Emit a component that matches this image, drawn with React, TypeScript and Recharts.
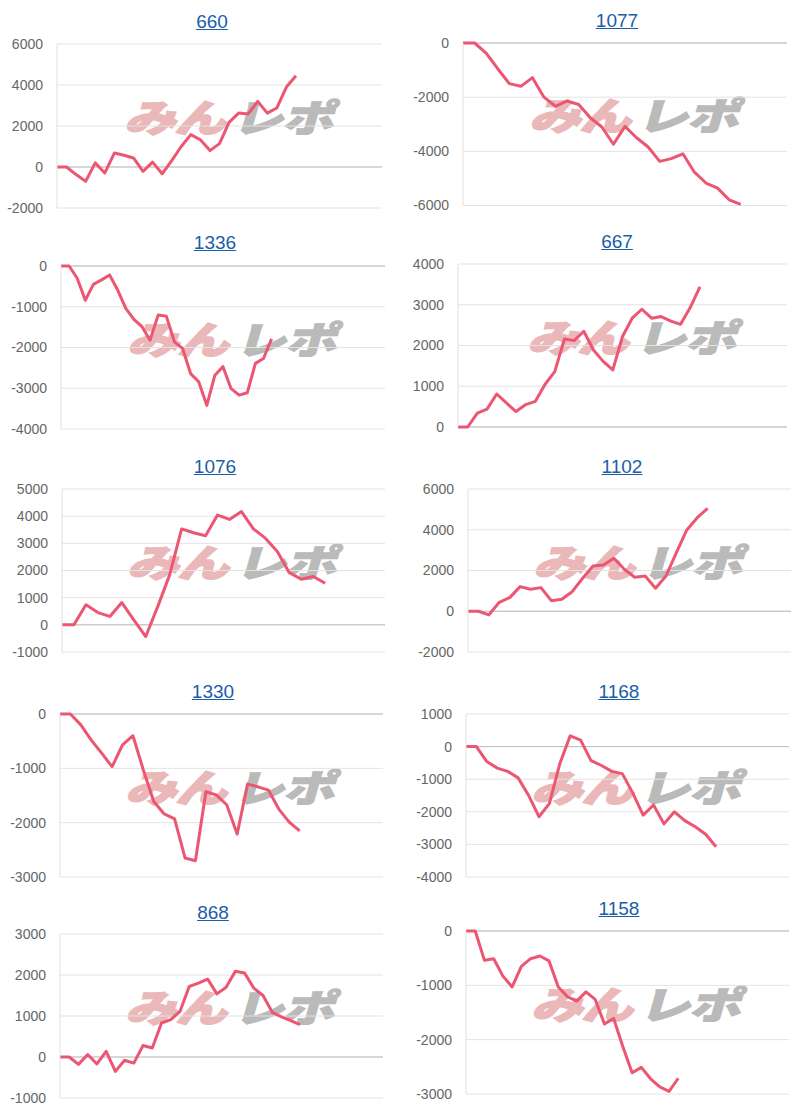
import React from 'react';
import { LineChart, Line, XAxis, YAxis, CartesianGrid, ReferenceLine } from 'recharts';

// ---- data ----
const titles = ['660', '1077', '1336', '667', '1076', '1102', '1330', '1168', '868', '1158'];

const values660 = [0, 0, -370, -700, 200, -290, 680, 570, 440, -210, 240, -330, 310, 1000, 1580, 1330, 800, 1140, 2180, 2630, 2590, 3200, 2630, 2880, 3900, 4450];
const values1077 = [0, 0, -370, -950, -1500, -1600, -1280, -2000, -2340, -2140, -2270, -2760, -3100, -3740, -3080, -3500, -3840, -4370, -4270, -4090, -4770, -5170, -5360, -5790, -5960];
const values1336 = [0, 0, -300, -840, -450, -340, -220, -590, -1040, -1310, -1490, -1820, -1200, -1230, -1860, -2020, -2640, -2840, -3420, -2680, -2470, -3010, -3170, -3110, -2390, -2270, -1790];
const values667 = [0, 0, 340, 440, 810, 590, 380, 550, 630, 1050, 1360, 2160, 2120, 2350, 1890, 1610, 1400, 2220, 2670, 2890, 2670, 2710, 2600, 2520, 2930, 3440];
const values1076 = [0, 0, 740, 450, 310, 820, 180, -430, 670, 1840, 3530, 3390, 3280, 4040, 3880, 4170, 3530, 3190, 2700, 1920, 1680, 1780, 1530];
const values1102 = [0, 0, -180, 440, 670, 1210, 1080, 1160, 520, 590, 960, 1620, 2220, 2270, 2600, 2060, 1670, 1730, 1130, 1730, 2880, 3990, 4590, 5050];
const values1330 = [0, 0, -200, -480, -720, -970, -570, -400, -1030, -1610, -1840, -1930, -2650, -2700, -1430, -1490, -1670, -2210, -1290, -1340, -1400, -1750, -1990, -2150];
const values1168 = [0, 0, -460, -660, -760, -960, -1490, -2150, -1750, -530, 330, 200, -430, -580, -760, -830, -1420, -2100, -1790, -2370, -2000, -2270, -2460, -2690, -3070];
const values868 = [0, 0, -180, 60, -170, 140, -350, -80, -150, 280, 220, 830, 910, 1110, 1720, 1800, 1900, 1540, 1700, 2090, 2050, 1680, 1500, 1090, 980, 890, 790];
const values1158 = [0, 0, -540, -510, -830, -1030, -650, -510, -460, -550, -1030, -1210, -1290, -1120, -1260, -1710, -1610, -2130, -2610, -2510, -2720, -2870, -2950, -2710];

// number of x slots on each chart's axis
const slotCounts = [35, 29, 41, 35, 28, 32, 32, 32, 36, 36];

const ticks660 = [-2000, 0, 2000, 4000, 6000];
const ticks1077 = [-6000, -4000, -2000, 0];
const ticks1336 = [-4000, -3000, -2000, -1000, 0];
const ticks667 = [0, 1000, 2000, 3000, 4000];
const ticks1076 = [-1000, 0, 1000, 2000, 3000, 4000, 5000];
const ticks1102 = [-2000, 0, 2000, 4000, 6000];
const ticks1330 = [-3000, -2000, -1000, 0];
const ticks1168 = [-4000, -3000, -2000, -1000, 0, 1000];
const ticks868 = [-1000, 0, 1000, 2000, 3000];
const ticks1158 = [-3000, -2000, -1000, 0];

const seriesList = [values660, values1077, values1336, values667, values1076, values1102, values1330, values1168, values868, values1158];
const tickList = [ticks660, ticks1077, ticks1336, ticks667, ticks1076, ticks1102, ticks1330, ticks1168, ticks868, ticks1158];

// ---- layout (pixel boxes of each panel) ----
const layout = [
  { colX: 0, colW: 400, left: 57, right: 382, top: 44.3, h: 164, tx: 212, ty: 21.7 },
  { colX: 400, colW: 412, left: 463, right: 787, top: 42.7, h: 162.5, tx: 617, ty: 20 },
  { colX: 0, colW: 400, left: 61, right: 385, top: 266, h: 163, tx: 215, ty: 242 },
  { colX: 400, colW: 412, left: 458, right: 787, top: 264, h: 163, tx: 617, ty: 241.5 },
  { colX: 0, colW: 400, left: 62, right: 385, top: 489, h: 163, tx: 215, ty: 466 },
  { colX: 400, colW: 412, left: 468, right: 791, top: 489, h: 163, tx: 622, ty: 466 },
  { colX: 0, colW: 400, left: 60, right: 383, top: 714, h: 163, tx: 213, ty: 691 },
  { colX: 400, colW: 412, left: 466, right: 789, top: 714, h: 163, tx: 619, ty: 691 },
  { colX: 0, colW: 400, left: 60, right: 383, top: 934, h: 164, tx: 213, ty: 912 },
  { colX: 400, colW: 412, left: 466, right: 789, top: 931, h: 163, tx: 619, ty: 908 },
];

const FONT = '"Liberation Sans", Arial, Helvetica, sans-serif';
const LINE_COLOR = '#ec5672';
const TITLE_COLOR = '#1a5ea8';

function Watermark({ cx, cy }: { cx: number; cy: number }) {
  return (
    <div
      style={{
        position: 'absolute',
        left: cx - 120,
        top: cy - 28,
        width: 240,
        height: 56,
        display: 'flex',
        justifyContent: 'center',
        alignItems: 'center',
        fontFamily: '"Noto Sans CJK JP", sans-serif',
        fontWeight: 900,
        fontSize: 46,
        lineHeight: '56px',
        transform: 'skewX(-16deg) scale(1.12, 0.82)',
        letterSpacing: -1,
        whiteSpace: 'nowrap',
        pointerEvents: 'none',
      }}
    >
      <span style={{ color: '#eab8b9', WebkitTextStroke: '2px #eab8b9' }}>みん</span>
      <span style={{ color: '#bababa', marginLeft: 6, WebkitTextStroke: '1.5px #bababa' }}>レポ</span>
    </div>
  );
}

function Panel({ idx }: { idx: number }) {
  const L = layout[idx];
  const values = seriesList[idx];
  const ticks = tickList[idx];
  const slots = slotCounts[idx];
  const data = values.map((v, i) => ({ i, v }));
  const padT = 10;
  const padB = 10;
  const chartTop = L.top - padT;
  const height = L.h + padT + padB;
  const yWidth = L.left - L.colX;
  const rightMargin = L.colX + L.colW - L.right;
  const plotW = L.right - L.left;
  const wmX = L.left + 0.54 * plotW;
  const wmY = L.top + 0.44 * L.h;
  return (
    <>
      <div
        style={{
          position: 'absolute',
          left: L.tx - 60,
          top: L.ty - 9.3,
          width: 120,
          textAlign: 'center',
          fontFamily: FONT,
          fontSize: 19,
          lineHeight: '19px',
          color: TITLE_COLOR,
          textDecoration: 'underline',
        }}
      >
        {titles[idx]}
      </div>
      <Watermark cx={wmX} cy={wmY} />
      <div style={{ position: 'absolute', left: L.colX, top: chartTop }}>
        <LineChart
          width={L.colW}
          height={height}
          data={data}
          margin={{ top: padT, right: rightMargin, bottom: padB, left: 0 }}
        >
          <CartesianGrid vertical={false} stroke="#e3e3e3" />
          <XAxis type="number" dataKey="i" domain={[0, slots - 1]} hide height={0} />
          <YAxis
            type="number"
            domain={[ticks[0], ticks[ticks.length - 1]]}
            ticks={ticks}
            interval={0}
            width={yWidth}
            tickLine={false}
            tickSize={6}
            tickMargin={8}
            axisLine={{ stroke: '#e0e0e0' }}
            tick={{ fill: '#666666', fontSize: 14, fontFamily: FONT }}
          />
          <ReferenceLine y={0} stroke="#bdbdbd" strokeWidth={1} />
          <Line
            type="linear"
            dataKey="v"
            stroke={LINE_COLOR}
            strokeWidth={3}
            dot={false}
            isAnimationActive={false}
            strokeLinejoin="round"
          />
        </LineChart>
      </div>
    </>
  );
}

export default function App() {
  return (
    <div
      style={{
        position: 'absolute',
        left: 0,
        top: 0,
        width: 812,
        height: 1115,
        background: '#ffffff',
        overflow: 'hidden',
      }}
    >
      {titles.map((_, i) => (
        <Panel key={i} idx={i} />
      ))}
    </div>
  );
}
